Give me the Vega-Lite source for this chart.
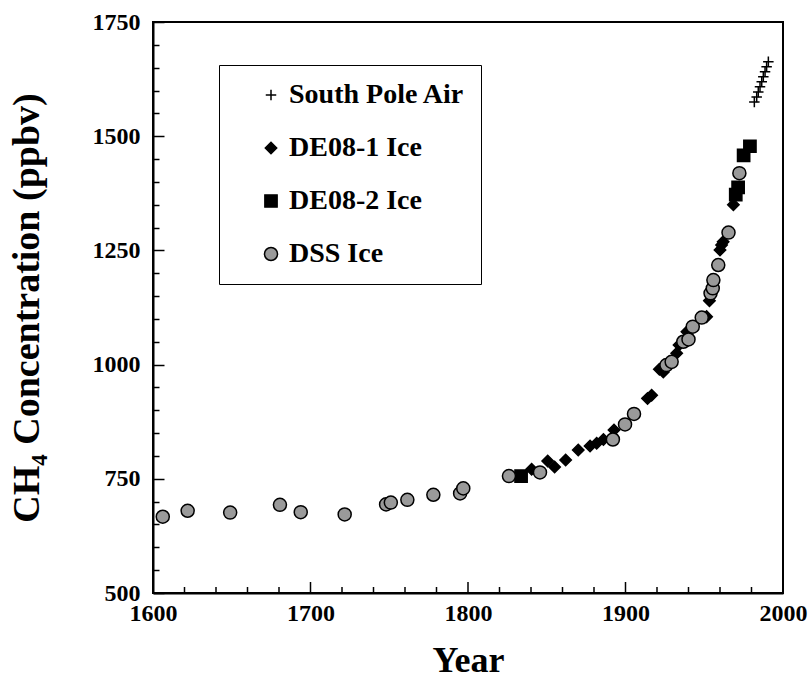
{
  "$schema": "https://vega.github.io/schema/vega-lite/v6.json",
  "width": 630,
  "height": 571,
  "autosize": "none",
  "padding": {"left": 153, "top": 22, "right": 28, "bottom": 96},
  "background": "white",
  "config": {
    "view": {"stroke": "black", "strokeWidth": 2},
    "font": "Liberation Serif"
  },
  "datasets": {
    "xticks": [
      {"year": 1600, "kind": "major"}, {"year": 1620, "kind": "minor"}, {"year": 1640, "kind": "minor"}, {"year": 1660, "kind": "minor"}, {"year": 1680, "kind": "minor"},
      {"year": 1700, "kind": "major"}, {"year": 1720, "kind": "minor"}, {"year": 1740, "kind": "minor"}, {"year": 1760, "kind": "minor"}, {"year": 1780, "kind": "minor"},
      {"year": 1800, "kind": "major"}, {"year": 1820, "kind": "minor"}, {"year": 1840, "kind": "minor"}, {"year": 1860, "kind": "minor"}, {"year": 1880, "kind": "minor"},
      {"year": 1900, "kind": "major"}, {"year": 1920, "kind": "minor"}, {"year": 1940, "kind": "minor"}, {"year": 1960, "kind": "minor"}, {"year": 1980, "kind": "minor"},
      {"year": 2000, "kind": "major"}
    ],
    "methane": [
      {"series": "DE08-2 Ice", "year": 1833.7, "ch4": 756},
      {"series": "DE08-2 Ice", "year": 1970, "ch4": 1372},
      {"series": "DE08-2 Ice", "year": 1971.5, "ch4": 1388},
      {"series": "DE08-2 Ice", "year": 1975, "ch4": 1458},
      {"series": "DE08-2 Ice", "year": 1979, "ch4": 1478},
      {"series": "DE08-1 Ice", "year": 1840.4, "ch4": 771},
      {"series": "DE08-1 Ice", "year": 1850.6, "ch4": 789},
      {"series": "DE08-1 Ice", "year": 1855, "ch4": 776},
      {"series": "DE08-1 Ice", "year": 1862, "ch4": 791},
      {"series": "DE08-1 Ice", "year": 1870, "ch4": 813},
      {"series": "DE08-1 Ice", "year": 1877.5, "ch4": 822},
      {"series": "DE08-1 Ice", "year": 1881.7, "ch4": 828},
      {"series": "DE08-1 Ice", "year": 1886, "ch4": 836},
      {"series": "DE08-1 Ice", "year": 1892.7, "ch4": 857},
      {"series": "DE08-1 Ice", "year": 1914, "ch4": 926},
      {"series": "DE08-1 Ice", "year": 1916.6, "ch4": 933},
      {"series": "DE08-1 Ice", "year": 1921.5, "ch4": 990},
      {"series": "DE08-1 Ice", "year": 1924, "ch4": 984},
      {"series": "DE08-1 Ice", "year": 1932.5, "ch4": 1025},
      {"series": "DE08-1 Ice", "year": 1934, "ch4": 1043},
      {"series": "DE08-1 Ice", "year": 1939, "ch4": 1072},
      {"series": "DE08-1 Ice", "year": 1951.5, "ch4": 1105},
      {"series": "DE08-1 Ice", "year": 1953.3, "ch4": 1140},
      {"series": "DE08-1 Ice", "year": 1960, "ch4": 1251},
      {"series": "DE08-1 Ice", "year": 1961, "ch4": 1262},
      {"series": "DE08-1 Ice", "year": 1962, "ch4": 1269},
      {"series": "DE08-1 Ice", "year": 1968.5, "ch4": 1350},
      {"series": "DSS Ice", "year": 1606.2, "ch4": 667},
      {"series": "DSS Ice", "year": 1622, "ch4": 680},
      {"series": "DSS Ice", "year": 1649, "ch4": 676},
      {"series": "DSS Ice", "year": 1680.6, "ch4": 693},
      {"series": "DSS Ice", "year": 1693.8, "ch4": 677},
      {"series": "DSS Ice", "year": 1721.7, "ch4": 672},
      {"series": "DSS Ice", "year": 1748, "ch4": 694},
      {"series": "DSS Ice", "year": 1751, "ch4": 698},
      {"series": "DSS Ice", "year": 1761.5, "ch4": 704},
      {"series": "DSS Ice", "year": 1778, "ch4": 715},
      {"series": "DSS Ice", "year": 1795, "ch4": 718},
      {"series": "DSS Ice", "year": 1797, "ch4": 729},
      {"series": "DSS Ice", "year": 1826, "ch4": 756},
      {"series": "DSS Ice", "year": 1845.7, "ch4": 764},
      {"series": "DSS Ice", "year": 1892, "ch4": 836},
      {"series": "DSS Ice", "year": 1899.7, "ch4": 869},
      {"series": "DSS Ice", "year": 1905.4, "ch4": 892},
      {"series": "DSS Ice", "year": 1926, "ch4": 999},
      {"series": "DSS Ice", "year": 1929.3, "ch4": 1006},
      {"series": "DSS Ice", "year": 1936.7, "ch4": 1050},
      {"series": "DSS Ice", "year": 1940, "ch4": 1055},
      {"series": "DSS Ice", "year": 1942.7, "ch4": 1083},
      {"series": "DSS Ice", "year": 1948.4, "ch4": 1103},
      {"series": "DSS Ice", "year": 1954, "ch4": 1156},
      {"series": "DSS Ice", "year": 1955.4, "ch4": 1167},
      {"series": "DSS Ice", "year": 1955.8, "ch4": 1185},
      {"series": "DSS Ice", "year": 1958.9, "ch4": 1218},
      {"series": "DSS Ice", "year": 1965.4, "ch4": 1289},
      {"series": "DSS Ice", "year": 1972.3, "ch4": 1419},
      {"series": "South Pole Air", "year": 1981.8, "ch4": 1575},
      {"series": "South Pole Air", "year": 1983.3, "ch4": 1586},
      {"series": "South Pole Air", "year": 1984.3, "ch4": 1597},
      {"series": "South Pole Air", "year": 1985.4, "ch4": 1608},
      {"series": "South Pole Air", "year": 1986.5, "ch4": 1619},
      {"series": "South Pole Air", "year": 1987.5, "ch4": 1630},
      {"series": "South Pole Air", "year": 1988.6, "ch4": 1641},
      {"series": "South Pole Air", "year": 1989.6, "ch4": 1652},
      {"series": "South Pole Air", "year": 1990.7, "ch4": 1663}
    ]
  },
  "resolve": {"axis": {"x": "independent", "y": "independent"}},
  "layer": [
    {
      "data": {"name": "xticks"},
      "transform": [{"filter": "datum.kind === 'major'"}],
      "mark": {"type": "tick", "orient": "vertical", "size": 22, "thickness": 1.5, "color": "black", "opacity": 1, "clip": true},
      "encoding": {
        "x": {"field": "year", "type": "quantitative", "scale": {"domain": [1600, 2000], "nice": false, "zero": false}, "axis": null},
        "y": {"datum": 500, "type": "quantitative", "scale": {"domain": [500, 1750], "nice": false, "zero": false}, "axis": null}
      }
    },
    {
      "data": {"name": "xticks"},
      "transform": [{"filter": "datum.kind === 'minor'"}],
      "mark": {"type": "tick", "orient": "vertical", "size": 12, "thickness": 1.5, "color": "black", "opacity": 1, "clip": true},
      "encoding": {
        "x": {"field": "year", "type": "quantitative", "scale": {"domain": [1600, 2000], "nice": false, "zero": false}, "axis": null},
        "y": {"datum": 500, "type": "quantitative", "scale": {"domain": [500, 1750], "nice": false, "zero": false}, "axis": null}
      }
    },
    {
      "data": {"name": "methane"},
      "mark": {"type": "point", "filled": true, "stroke": "black", "strokeWidth": 1.5, "opacity": 1},
      "encoding": {
        "x": {
          "field": "year", "type": "quantitative",
          "scale": {"domain": [1600, 2000], "nice": false, "zero": false},
          "axis": {"orient": "bottom", "values": [1600,1700,1800,1900,2000], "format": "d",
            "ticks": false, "domainColor": "black", "domainWidth": 2, "grid": false,
            "labelFont": "Liberation Serif", "labelFontWeight": "bold", "labelFontSize": 24, "labelColor": "black", "labelPadding": 8, "labelFlush": false,
            "title": "Year", "titleFont": "Liberation Serif", "titleFontWeight": "bold", "titleFontSize": 36, "titleColor": "black", "titlePadding": 18}
        },
        "y": {
          "field": "ch4", "type": "quantitative",
          "scale": {"domain": [500, 1750], "nice": false, "zero": false},
          "axis": {"orient": "left", "values": [500,550,600,650,700,750,800,850,900,950,1000,1050,1100,1150,1200,1250,1300,1350,1400,1450,1500,1550,1600,1650,1700,1750],
            "labelExpr": "datum.value % 250 === 0 ? format(datum.value, 'd') : ''",
            "ticks": false, "domainColor": "black", "domainWidth": 2,
            "grid": true, "gridColor": "black", "gridWidth": 1.5, "gridOpacity": 1,
            "gridDash": {"condition": {"test": "datum.value % 250 === 0", "value": [11, 2000]}, "value": [6, 2000]},
            "labelFont": "Liberation Serif", "labelFontWeight": "bold", "labelFontSize": 24, "labelColor": "black", "labelPadding": 13, "labelFlush": false,
            "title": "CH₄ Concentration (ppbv)", "titleFont": "Liberation Serif", "titleFontWeight": "bold", "titleFontSize": 38, "titleColor": "black", "titlePadding": 46}
        },
        "shape": {
          "field": "series", "type": "nominal",
          "scale": {"domain": ["South Pole Air", "DE08-1 Ice", "DE08-2 Ice", "DSS Ice"], "range": ["M-1,0H1M0,-1V1", "diamond", "square", "circle"]},
          "legend": {"orient": "none", "legendX": 66, "legendY": 43, "title": null, "strokeColor": "black", "padding": 16,
            "labelFont": "Liberation Serif", "labelFontWeight": "bold", "labelFontSize": 28, "labelColor": "black", "labelLimit": 400, "labelOffset": 4,
            "symbolOffset": 22, "symbolStrokeColor": "black", "symbolStrokeWidth": 1.5, "rowPadding": 25}
        },
        "fill": {
          "field": "series", "type": "nominal",
          "scale": {"domain": ["South Pole Air", "DE08-1 Ice", "DE08-2 Ice", "DSS Ice"], "range": ["transparent", "black", "black", "#9a9a9a"]}
        },
        "size": {
          "field": "series", "type": "nominal",
          "scale": {"domain": ["South Pole Air", "DE08-1 Ice", "DE08-2 Ice", "DSS Ice"], "range": [110, 170, 140, 290]}
        }
      }
    }
  ]
}
